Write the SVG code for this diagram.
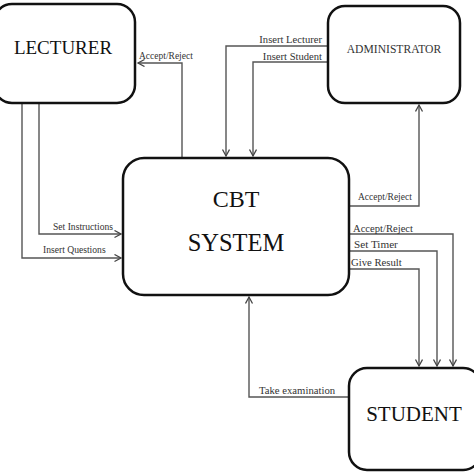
<svg xmlns="http://www.w3.org/2000/svg" width="474" height="474" viewBox="0 0 474 474">
<style>
.box{fill:#fff;stroke:#111;stroke-width:2.5}
.c{fill:none;stroke:#555;stroke-width:1.4;marker-end:url(#ah)}
.t{font-family:"Liberation Serif","Times New Roman",serif;fill:#111}
.l{font-family:"Liberation Serif","Times New Roman",serif;fill:#333}
</style>
<defs>
<marker id="ah" markerUnits="userSpaceOnUse" markerWidth="10" markerHeight="10" refX="7" refY="4" orient="auto">
<path d="M0.5,0.5 L7,4 L0.5,7.5" fill="none" stroke="#444" stroke-width="1.3"/>
</marker>
</defs>
<rect width="474" height="474" fill="#fff"/>
<g id="connectors">
<polyline class="c" points="182,158 182,63 138,63"/>
<polyline class="c" points="39,103 39,234 121,234"/>
<polyline class="c" points="22,103 22,258 121,258"/>
<polyline class="c" points="328,46 226,46 226,156"/>
<polyline class="c" points="328,62 253,62 253,156"/>
<polyline class="c" points="349,206 419,206 419,105"/>
<polyline class="c" points="350,234 453,234 453,366"/>
<polyline class="c" points="350,251 437,251 437,366"/>
<polyline class="c" points="350,269 419,269 419,366"/>
<polyline class="c" points="349,397 249,397 249,297"/>
<text class="l" x="139" y="59" font-size="9.5">Accept/Reject</text>
<text class="l" x="53" y="230" font-size="9.6">Set Instructions</text>
<text class="l" x="43" y="253" font-size="9.6">Insert Questions</text>
<text class="l" x="322" y="43" font-size="10.6" text-anchor="end">Insert Lecturer</text>
<text class="l" x="322" y="60" font-size="10.6" text-anchor="end">Insert Student</text>
<text class="l" x="358" y="200" font-size="9.5">Accept/Reject</text>
<text class="l" x="353" y="232" font-size="10.6">Accept/Reject</text>
<text class="l" x="354" y="248" font-size="11.2">Set Timer</text>
<text class="l" x="351" y="266" font-size="10.7">Give Result</text>
<text class="l" x="259" y="394" font-size="10.7">Take examination</text>
</g>
<g id="lecturer">
<rect class="box" x="-6" y="4" width="141" height="99" rx="18"/>
<text class="t" x="63" y="54" font-size="19" text-anchor="middle">LECTURER</text>
</g>
<g id="administrator">
<rect class="box" x="328" y="6" width="132" height="97" rx="17"/>
<text class="l" x="394" y="53" font-size="11.6" text-anchor="middle">ADMINISTRATOR</text>
</g>
<g id="cbt">
<rect class="box" x="123" y="158" width="226" height="137" rx="21"/>
<text class="t" x="236" y="207" font-size="24" text-anchor="middle">CBT</text>
<text class="t" x="236" y="251" font-size="24.5" text-anchor="middle">SYSTEM</text>
</g>
<g id="student">
<rect class="box" x="349" y="368" width="132" height="102" rx="18"/>
<text class="t" x="414" y="421" font-size="21" text-anchor="middle">STUDENT</text>
</g>
</svg>
